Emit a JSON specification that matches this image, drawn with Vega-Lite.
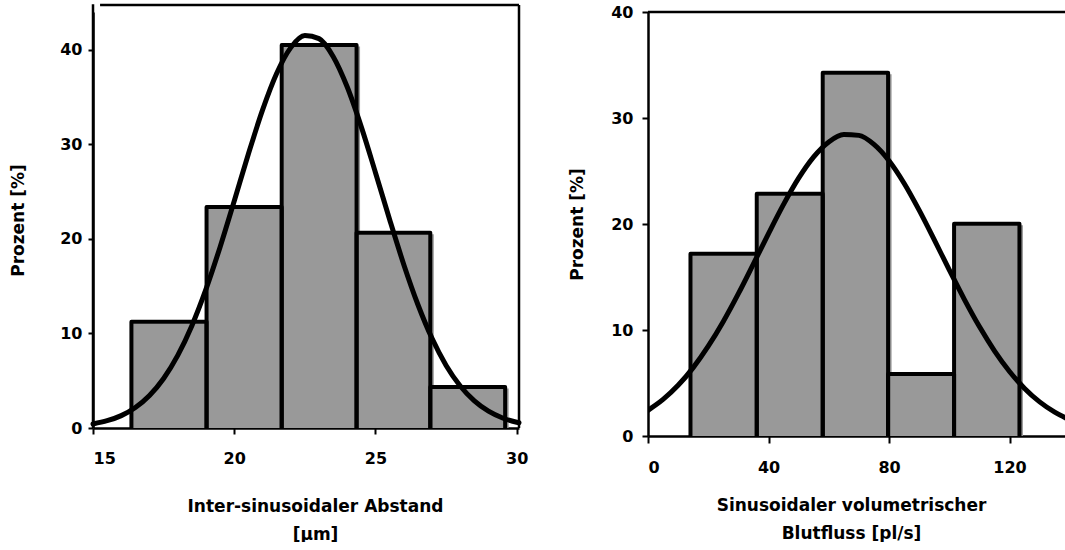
{
  "$schema": "https://vega.github.io/schema/vega-lite/v6.json",
  "background": "white",
  "padding": {"left": 9, "top": 2, "right": 0, "bottom": 0},
  "spacing": 39,
  "align": "none",
  "config": {
    "font": "DejaVu Sans",
    "view": {"stroke": null},
    "axis": {
      "grid": false,
      "domainColor": "black",
      "domainWidth": 2.5,
      "tickColor": "black",
      "tickWidth": 2,
      "labelColor": "black",
      "labelFont": "DejaVu Sans",
      "labelFontWeight": "bold",
      "labelFontSize": 16,
      "titleColor": "black",
      "titleFont": "DejaVu Sans",
      "titleFontWeight": "bold",
      "titleFontSize": 17,
      "titleLineHeight": 28
    }
  },
  "datasets": {
    "abstandBins": [
      {"lo": 16.36, "hi": 19.02, "pct": 11.24},
      {"lo": 19.02, "hi": 21.68, "pct": 23.38},
      {"lo": 21.68, "hi": 24.33, "pct": 40.52},
      {"lo": 24.33, "hi": 26.94, "pct": 20.65},
      {"lo": 26.94, "hi": 29.59, "pct": 4.33}
    ],
    "abstandFit": [
      {"x": 15.0, "y": 0.43}, {"x": 15.5, "y": 0.77}, {"x": 16.0, "y": 1.31},
      {"x": 16.5, "y": 2.17}, {"x": 17.0, "y": 3.44}, {"x": 17.5, "y": 5.24},
      {"x": 18.0, "y": 7.68}, {"x": 18.5, "y": 10.83}, {"x": 19.0, "y": 14.69},
      {"x": 19.5, "y": 19.16}, {"x": 20.0, "y": 24.03}, {"x": 20.5, "y": 28.99},
      {"x": 21.0, "y": 33.63}, {"x": 21.5, "y": 37.51}, {"x": 22.0, "y": 40.25},
      {"x": 22.5, "y": 41.53}, {"x": 23.0, "y": 41.2}, {"x": 23.5, "y": 39.32},
      {"x": 24.0, "y": 36.08}, {"x": 24.5, "y": 31.84}, {"x": 25.0, "y": 27.02},
      {"x": 25.5, "y": 22.06}, {"x": 26.0, "y": 17.31}, {"x": 26.5, "y": 13.07},
      {"x": 27.0, "y": 9.49}, {"x": 27.5, "y": 6.62}, {"x": 28.0, "y": 4.45},
      {"x": 28.5, "y": 2.87}, {"x": 29.0, "y": 1.78}, {"x": 29.5, "y": 1.06},
      {"x": 30.0, "y": 0.61}, {"x": 30.08, "y": 0.56}
    ],
    "abstandFrame": [
      {"x": 15, "x2": 15, "y": 0, "y2": 44.85},
      {"x": 15.25, "x2": 30.08, "y": 44.75, "y2": 44.75},
      {"x": 30.08, "x2": 30.08, "y": 0, "y2": 44.75}
    ],
    "flussBins": [
      {"lo": 14.1, "hi": 36.1, "pct": 17.2},
      {"lo": 36.1, "hi": 58.0, "pct": 22.85},
      {"lo": 58.0, "hi": 79.7, "pct": 34.27},
      {"lo": 79.7, "hi": 101.6, "pct": 5.86},
      {"lo": 101.6, "hi": 123.3, "pct": 20.03}
    ],
    "flussFit": [
      {"x": 0, "y": 2.42}, {"x": 5, "y": 3.45}, {"x": 10, "y": 4.78},
      {"x": 15, "y": 6.45}, {"x": 20, "y": 8.47}, {"x": 25, "y": 10.81},
      {"x": 30, "y": 13.43}, {"x": 35, "y": 16.24}, {"x": 40, "y": 19.1},
      {"x": 45, "y": 21.85}, {"x": 50, "y": 24.32}, {"x": 55, "y": 26.33},
      {"x": 60, "y": 27.74}, {"x": 65, "y": 28.44}, {"x": 70, "y": 28.36},
      {"x": 75, "y": 27.51}, {"x": 80, "y": 25.97}, {"x": 85, "y": 23.85},
      {"x": 90, "y": 21.31}, {"x": 95, "y": 18.53}, {"x": 100, "y": 15.67},
      {"x": 105, "y": 12.89}, {"x": 110, "y": 10.32}, {"x": 115, "y": 8.04},
      {"x": 120, "y": 6.09}, {"x": 125, "y": 4.49}, {"x": 130, "y": 3.22},
      {"x": 135, "y": 2.25}, {"x": 140, "y": 1.52}
    ],
    "flussFrame": [{"y": 40}]
  },
  "hconcat": [
    {
      "width": 426,
      "height": 416,
      "layer": [
        {
          "data": {"name": "abstandBins"},
          "mark": {"type": "bar", "color": "#999999", "xOffset": 1.5, "x2Offset": 3.5, "yOffset": 1.5},
          "encoding": {
            "x": {
              "field": "lo", "type": "quantitative",
              "scale": {"domain": [15, 30.08], "nice": false, "zero": false},
              "axis": {
                "values": [15, 20, 25, 30],
                "tickSize": 6,
                "labelPadding": 16,
                "titlePadding": 32,
                "titleX": 222,
                "title": ["Inter-sinusoidaler Abstand", "[µm]"]
              }
            },
            "x2": {"field": "hi"},
            "y": {
              "field": "pct", "type": "quantitative",
              "scale": {"domain": [0, 44.02], "nice": false},
              "axis": {
                "values": [0, 10, 20, 30, 40],
                "tickSize": 5,
                "labelPadding": 6,
                "titlePadding": 32,
                "title": "Prozent [%]"
              }
            },
            "y2": {"datum": 0}
          }
        },
        {
          "data": {"name": "abstandBins"},
          "mark": {"type": "bar", "fillOpacity": 0, "stroke": "black", "strokeWidth": 4, "strokeJoin": "round", "y2Offset": 5, "clip": true},
          "encoding": {
            "x": {"field": "lo", "type": "quantitative"},
            "x2": {"field": "hi"},
            "y": {"field": "pct", "type": "quantitative"},
            "y2": {"datum": 0}
          }
        },
        {
          "data": {"name": "abstandFrame"},
          "mark": {"type": "rule", "color": "black", "strokeWidth": 2.5},
          "encoding": {
            "x": {"field": "x", "type": "quantitative"},
            "x2": {"field": "x2"},
            "y": {"field": "y", "type": "quantitative"},
            "y2": {"field": "y2"}
          }
        },
        {
          "data": {"name": "abstandFit"},
          "mark": {"type": "line", "color": "black", "strokeWidth": 5, "interpolate": "monotone", "strokeCap": "round"},
          "encoding": {
            "x": {"field": "x", "type": "quantitative"},
            "y": {"field": "y", "type": "quantitative"}
          }
        }
      ]
    },
    {
      "width": 418,
      "height": 424,
      "layer": [
        {
          "data": {"name": "flussBins"},
          "mark": {"type": "bar", "color": "#999999", "xOffset": 1.5, "x2Offset": 3.5, "yOffset": 1.5},
          "encoding": {
            "x": {
              "field": "lo", "type": "quantitative",
              "scale": {"domain": [0, 138.75], "nice": false},
              "axis": {
                "values": [0, 40, 80, 120],
                "tickSize": 7,
                "labelPadding": 16,
                "titlePadding": 22,
                "titleX": 203,
                "title": ["Sinusoidaler volumetrischer", "Blutfluss [pl/s]"]
              }
            },
            "x2": {"field": "hi"},
            "y": {
              "field": "pct", "type": "quantitative",
              "scale": {"domain": [0, 40], "nice": false},
              "axis": {
                "values": [0, 10, 20, 30, 40],
                "tickSize": 6,
                "labelPadding": 9,
                "titlePadding": 24,
                "title": "Prozent [%]"
              }
            },
            "y2": {"datum": 0}
          }
        },
        {
          "data": {"name": "flussBins"},
          "mark": {"type": "bar", "fillOpacity": 0, "stroke": "black", "strokeWidth": 4, "strokeJoin": "round", "y2Offset": 5, "clip": true},
          "encoding": {
            "x": {"field": "lo", "type": "quantitative"},
            "x2": {"field": "hi"},
            "y": {"field": "pct", "type": "quantitative"},
            "y2": {"datum": 0}
          }
        },
        {
          "data": {"name": "flussFrame"},
          "mark": {"type": "rule", "color": "black", "strokeWidth": 2.5},
          "encoding": {
            "y": {"field": "y", "type": "quantitative"}
          }
        },
        {
          "data": {"name": "flussFit"},
          "mark": {"type": "line", "color": "black", "strokeWidth": 5, "interpolate": "monotone", "strokeCap": "round", "clip": true},
          "encoding": {
            "x": {"field": "x", "type": "quantitative"},
            "y": {"field": "y", "type": "quantitative"}
          }
        }
      ]
    }
  ]
}
